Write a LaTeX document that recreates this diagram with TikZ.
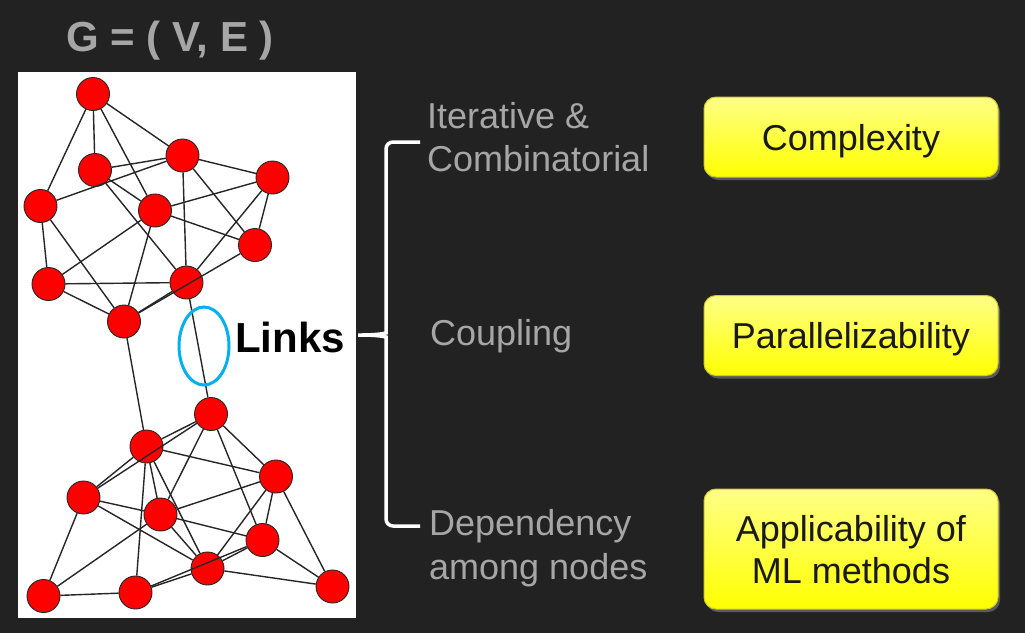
\documentclass[tikz,border=0pt]{standalone}
\usepackage{fontspec}
\setmainfont{Liberation Sans}
\usetikzlibrary{shadows}
\definecolor{bgdark}{RGB}{34,34,34}
\definecolor{txtgrey}{RGB}{166,166,166}
\definecolor{nodered}{RGB}{255,0,0}
\definecolor{ringblue}{RGB}{0,176,240}
\definecolor{boxtop}{RGB}{255,255,135}
\definecolor{boxbot}{RGB}{255,255,0}
\definecolor{boxrim}{RGB}{205,205,40}

\begin{document}
\begin{tikzpicture}[x=1pt,y=-1pt,
  vert/.style={circle,draw=black!85,line width=0.9pt,fill=nodered,
               minimum size=33pt,inner sep=0pt},
  edge/.style={line width=1.4pt,black!85},
  gtext/.style={anchor=west,align=left,inner sep=0pt,text=txtgrey,
                font=\fontsize{36}{43.5}\selectfont},
  ybox/.style={rectangle,rounded corners=12pt,draw=boxrim,line width=1pt,
               top color=boxtop,bottom color=boxbot,minimum width=294pt,
               minimum height=80pt,align=center,text=black!90,text depth=0pt,
               font=\fontsize{36}{42}\selectfont,
               drop shadow={shadow xshift=2pt,shadow yshift=-3pt,opacity=0.6}}]
\fill[bgdark] (0,0) rectangle (1025,633);
\fill[white] (18,72) rectangle (356,618);

\node[anchor=base,inner sep=0pt,text=txtgrey,font=\fontsize{42}{42}\selectfont\bfseries]
  (title) at (170,51.5) {G = ( V, E )};

\node[vert] (a1) at (93,94) {};
\node[vert] (a2) at (95,170) {};
\node[vert] (a3) at (182.5,155.5) {};
\node[vert] (a4) at (272.5,177.5) {};
\node[vert] (a5) at (40.5,206) {};
\node[vert] (a6) at (155,210.5) {};
\node[vert] (a7) at (255,245) {};
\node[vert] (a8) at (48.5,284) {};
\node[vert] (a9) at (186.5,282.5) {};
\node[vert] (a10) at (124,321.5) {};

\node[vert] (b1) at (211,414) {};
\node[vert] (b2) at (146.5,446.5) {};
\node[vert] (b3) at (276,476.5) {};
\node[vert] (b4) at (83.5,497.5) {};
\node[vert] (b5) at (160.5,514.5) {};
\node[vert] (b6) at (262.5,540) {};
\node[vert] (b7) at (207.5,568.5) {};
\node[vert] (b8) at (43.5,596) {};
\node[vert] (b9) at (135.5,592.5) {};
\node[vert] (b10) at (332.5,586.5) {};

\foreach \u/\v in {a1/a2,a1/a3,a1/a5,a1/a6,a2/a3,a2/a6,a2/a9,a5/a3,a3/a4,
  a3/a9,a3/a7,a4/a6,a4/a7,a4/a9,a6/a7,a6/a8,a6/a10,a5/a8,a5/a10,a8/a9,
  a8/a10,a9/a10,a7/a10,a9/b1,a10/b2,
  b1/b2,b1/b4,b1/b5,b1/b3,b1/b6,b2/b3,b2/b5,b2/b9,b2/b7,b4/b2,b4/b5,
  b4/b8,b4/b7,b5/b3,b5/b6,b5/b7,b3/b6,b3/b7,b3/b10,b6/b10,b6/b7,b6/b9,
  b7/b9,b7/b10,b8/b9,b8/b5}
  \draw[edge] (\u) -- (\v);

\draw[ringblue,line width=3pt] (204,346) ellipse [x radius=25, y radius=39];
\node[anchor=base west,inner sep=0pt,font=\fontsize{42}{42}\selectfont\bfseries]
  (links) at (235,352) {Links};

\draw[white,line width=3.5pt,rounded corners=7pt]
  (420,142) -- (386,142) -- (386,326)
  .. controls (386,333) and (379,335) .. (354,335)
  .. controls (379,335) and (386,337) .. (386,344)
  -- (386,526) -- (420,526);

\node[gtext] (iter) at (427,137) {Iterative \&\\Combinatorial};
\node[gtext] (coup) at (430,336) {Coupling};
\node[gtext] (dep) at (429,548) {Dependency\\among nodes};

\node[ybox] (cplx) at (851,137) {Complexity};
\node[ybox] (para) at (851,335.5) {Parallelizability};
\node[ybox,minimum height=120pt] (appl) at (851,549) {Applicability of\\ML methods};
\end{tikzpicture}
\end{document}
